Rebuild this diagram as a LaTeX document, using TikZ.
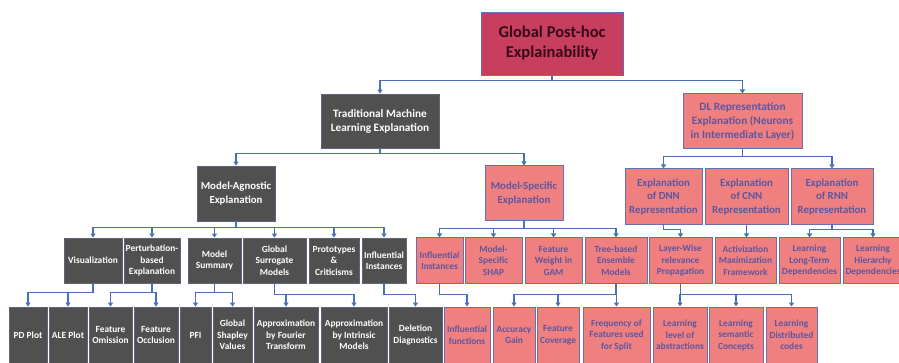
\documentclass[tikz,border=0pt]{standalone}
\usepackage{fontspec}
\setmainfont{Carlito}
\usetikzlibrary{arrows.meta}
\definecolor{dkfill}{RGB}{80,80,80}
\definecolor{dkline}{RGB}{95,100,125}
\definecolor{pkfill}{RGB}{240,128,128}
\definecolor{pkline}{RGB}{105,110,175}
\definecolor{pktext}{RGB}{92,86,160}
\definecolor{gfill}{RGB}{200,62,95}
\definecolor{gtext}{RGB}{55,10,25}
\definecolor{cn}{RGB}{75,110,180}
\begin{document}
\begin{tikzpicture}[x=1pt,y=-1pt,
  box/.style={inner sep=0pt, align=center, font=\bfseries\fontsize{9.4}{11.5}\selectfont},
  dkbox/.style={box, fill=dkfill, draw=dkline, line width=0.8pt, text=white},
  pkbox/.style={box, fill=pkfill, draw=pkline, line width=1pt, text=pktext},
  midfont/.style={font=\bfseries\fontsize{10.8}{13.5}\selectfont},
  topfont/.style={font=\bfseries\fontsize{11.3}{14}\selectfont},
  sz/.style 2 args={minimum width=#1pt, minimum height=#2pt},
  conn/.style={draw=cn, line width=1.6pt, -{Triangle[length=4pt,width=5pt]}}
]
\useasboundingbox (0,0) rectangle (899,363);
% level 0
\node[box, fill=gfill, draw=pkline, line width=0.8pt, text=gtext, font=\bfseries\fontsize{16.5}{20}\selectfont, sz={142}{63}] (g) at (552,43.5) {Global Post-hoc\\Explainability};
% level 1
\node[dkbox, topfont, sz={118}{54}] (trad) at (380,121) {Traditional Machine\\Learning Explanation};
\node[pkbox, topfont, sz={119}{55}] (dl) at (742.5,121.5) {DL Representation\\Explanation (Neurons\\in Intermediate Layer)};
% level 2
\node[dkbox, midfont, sz={78}{55}] (ma) at (236,193.5) {Model-Agnostic\\Explanation};
\node[pkbox, midfont, sz={78}{55}] (ms) at (524,193.5) {Model-Specific\\Explanation};
\node[pkbox, midfont, sz={77}{56}] (dnn) at (663.5,197) {Explanation\\of DNN\\Representation};
\node[pkbox, midfont, sz={83}{56}] (cnn) at (746.5,197) {Explanation\\of CNN\\Representation};
\node[pkbox, midfont, sz={82}{56}] (rnn) at (832,197) {Explanation\\of RNN\\Representation};
% level 3
\node[dkbox, sz={58}{45}] (vis) at (93,260.5) {Visualization};
\node[dkbox, sz={56}{45}] (pert) at (152,260.5) {Perturbation-\\based\\Explanation};
\node[dkbox, sz={53}{45}] (msum) at (214.5,260.5) {Model\\Summary};
\node[dkbox, sz={63}{45}] (gsm) at (274.5,260.5) {Global\\Surrogate\\Models};
\node[dkbox, sz={50}{45}] (proto) at (334,260.5) {Prototypes\\\&\\Criticisms};
\node[dkbox, sz={44}{45}] (infd) at (384,260.5) {Influential\\Instances};
\node[pkbox, sz={47}{45}] (infp) at (439.5,260.5) {Influential\\Instances};
\node[pkbox, sz={57}{45}] (shap) at (493.5,260.5) {Model-\\Specific\\SHAP};
\node[pkbox, sz={57}{45}] (gam) at (553.5,260.5) {Feature\\Weight in\\GAM};
\node[pkbox, sz={62}{45}] (tree) at (616,260.5) {Tree-based\\Ensemble\\Models};
\node[pkbox, sz={63}{45}] (lw) at (680.5,260.5) {Layer-Wise\\relevance\\Propagation};
\node[pkbox, sz={61}{45}] (act) at (745.5,260.5) {Activization\\Maximization\\Framework};
\node[pkbox, sz={61}{45}] (ltd) at (809.5,260.5) {Learning\\Long-Term\\Dependencies};
\node[pkbox, sz={60}{45}] (hd) at (873,260.5) {Learning\\Hierarchy\\Dependencies};
% level 4
\node[dkbox, sz={38}{56}] (pd) at (28,335) {PD Plot};
\node[dkbox, sz={38}{56}] (ale) at (68,335) {ALE Plot};
\node[dkbox, sz={43}{56}] (omi) at (110.5,335) {Feature\\Omission};
\node[dkbox, sz={44}{56}] (occ) at (156,335) {Feature\\Occlusion};
\node[dkbox, sz={31}{56}] (pfi) at (195.5,335) {PFI};
\node[dkbox, sz={39}{56}] (gsv) at (232.5,335) {Global\\Shapley\\Values};
\node[dkbox, sz={64}{56}] (fou) at (286,335) {Approximation\\by Fourier\\Transform};
\node[dkbox, sz={66}{56}] (intr) at (354,335) {Approximation\\by Intrinsic\\Models};
\node[dkbox, sz={53}{56}] (del) at (415.5,335) {Deletion\\Diagnostics};
\node[pkbox, sz={46}{56}] (inff) at (467,335) {Influential\\functions};
\node[pkbox, sz={42}{56}] (acc) at (514,335) {Accuracy\\Gain};
\node[pkbox, sz={42}{56}] (cov) at (558,335) {Feature\\Coverage};
\node[pkbox, sz={67}{56}] (freq) at (616.5,335) {Frequency of\\Features used\\for Split};
\node[pkbox, sz={54}{56}] (lvl) at (680,335) {Learning\\level of\\abstractions};
\node[pkbox, sz={54}{56}] (sem) at (736,335) {Learning\\semantic\\Concepts};
\node[pkbox, sz={51}{56}] (dist) at (791.5,335) {Learning\\Distributed\\codes};
% connectors
\draw[conn] (g.south) -- ++(0,5) -| (trad.north);
\draw[conn] (g.south) -- ++(0,5) -| (dl.north);
\draw[conn] (trad.south) -- ++(0,5) -| (ma.north);
\draw[conn] (trad.south) -- ++(0,5) -| (ms.north);
\draw[conn] (dl.south) -- ++(0,7) -| (dnn.north);
\draw[conn] (dl.south) -- ++(0,7) -| (rnn.north);
\foreach \c in {vis,pert,msum,gsm,proto,infd}
  \draw[conn] (ma.south) -- ++(0,6) -| (\c.north);
\foreach \c in {infp,shap,gam,tree}
  \draw[conn] (ms.south) -- ++(0,7) -| (\c.north);
\draw[conn] (dnn.south) -- ++(0,4) -| (lw.north);
\draw[conn] (cnn.south) -- (cnn.south |- act.north);
\foreach \c in {ltd,hd}
  \draw[conn] (rnn.south) -- ++(0,4) -| (\c.north);
\foreach \c in {pd,ale}
  \draw[conn] (vis.south) -- ++(0,9) -| (\c.north);
\foreach \c in {omi,occ}
  \draw[conn] (pert.south) -- ++(0,9) -| (\c.north);
\foreach \c in {pfi,gsv}
  \draw[conn] (msum.south) -- ++(0,9) -| (\c.north);
\foreach \c in {fou,intr}
  \draw[conn] (gsm.south) -- ++(0,11) -| (\c.north);
\draw[conn] (infd.south) -- ++(0,11) -| (del.north);
\draw[conn] (infp.south) -- ++(0,11) -| (inff.north);
\foreach \c in {acc,cov,freq}
  \draw[conn] (tree.south) -- ++(0,11) -| (\c.north);
\foreach \c in {lvl,sem,dist}
  \draw[conn] (lw.south) -- ++(0,11) -| (\c.north);
\end{tikzpicture}
\end{document}
